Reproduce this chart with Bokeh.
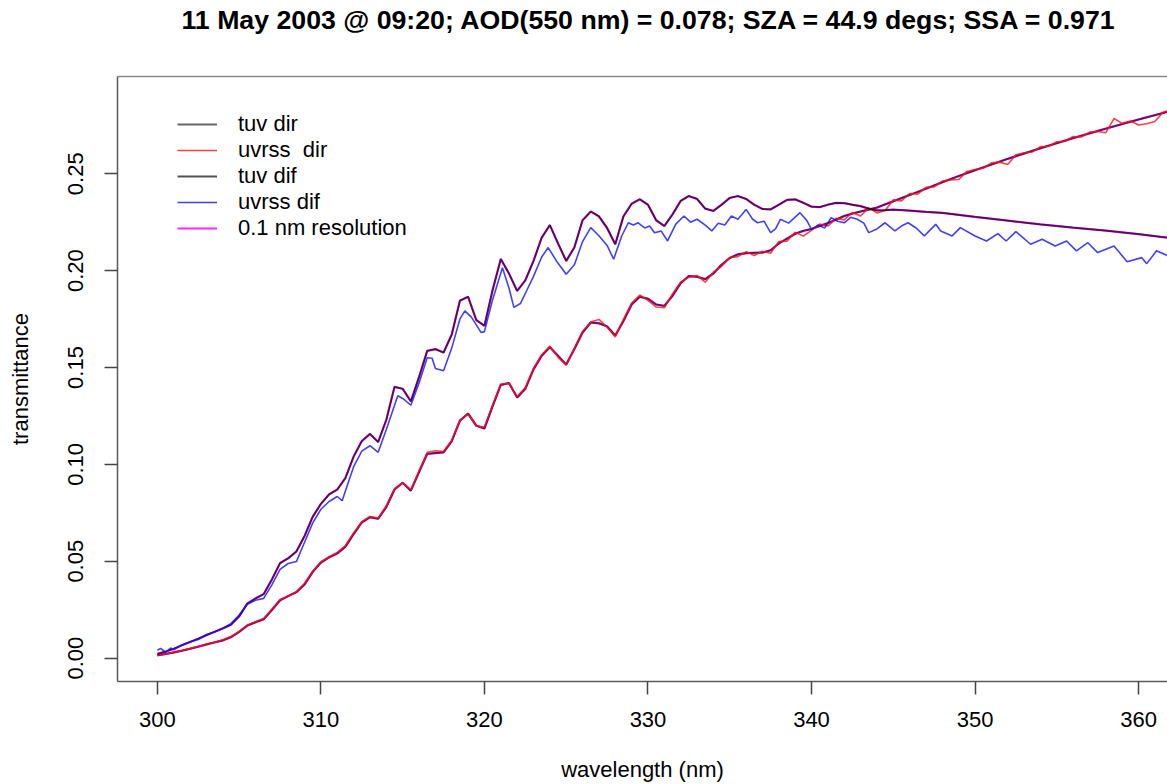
from bokeh.plotting import figure
from bokeh.models import Legend, LegendItem, FixedTicker, PrintfTickFormatter, Range1d, LinearAxis
from bokeh.embed import file_html
from bokeh.resources import INLINE

TITLE = "11 May 2003 @ 09:20; AOD(550 nm) = 0.078; SZA = 44.9 degs; SSA = 0.971"
X_LABEL = "wavelength (nm)"
Y_LABEL = "transmittance"
X_TICKS = [300, 310, 320, 330, 340, 350, 360]
Y_TICKS = [0.00, 0.05, 0.10, 0.15, 0.20, 0.25]
SERIES_NAMES = ["tuv dir", "uvrss  dir", "tuv dif", "uvrss dif", "0.1 nm resolution"]

# TUV model (wavelength grid shared by direct and diffuse)
tuv_wl = [300.0, 300.5, 301.0, 301.5, 302.0, 302.5, 303.0, 303.5, 304.0, 304.5,
          305.0, 305.5, 306.0, 306.5, 307.0, 307.5, 308.0, 308.5, 309.0, 309.5,
          310.0, 310.5, 311.0, 311.5, 312.0, 312.5, 313.0, 313.5, 314.0, 314.5,
          315.0, 315.5, 316.0, 316.5, 317.0, 317.5, 318.0, 318.5, 319.0, 319.5,
          320.0, 320.5, 321.0, 321.5, 322.0, 322.5, 323.0, 323.5, 324.0, 324.5,
          325.0, 325.5, 326.0, 326.5, 327.0, 327.5, 328.0, 328.5, 329.0, 329.5,
          330.0, 330.5, 331.0, 331.5, 332.0, 332.5, 333.0, 333.5, 334.0, 334.5,
          335.0, 335.5, 336.0, 336.5, 337.0, 337.5, 338.0, 338.5, 339.0, 339.5,
          340.0, 340.5, 341.0, 341.5, 342.0, 342.5, 343.0, 343.5, 344.0, 344.5,
          345.0, 346.0, 347.0, 348.0, 349.0, 350.0, 352.0, 354.0, 356.0, 358.0,
          360.0, 362.0]
tuv_dir = [0.0014, 0.0021, 0.0029, 0.0038, 0.0048, 0.0059, 0.0070, 0.0081, 0.0091, 0.0108,
           0.0135, 0.0168, 0.0185, 0.0200, 0.0248, 0.0298, 0.0320, 0.0340, 0.0380, 0.0445,
           0.0493, 0.0520, 0.0540, 0.0575, 0.0640, 0.0700, 0.0727, 0.0719, 0.0780, 0.0870,
           0.0905, 0.0864, 0.0960, 0.1054, 0.1058, 0.1062, 0.1120, 0.1225, 0.1262, 0.1200,
           0.1185, 0.1300, 0.1410, 0.1420, 0.1345, 0.1390, 0.1490, 0.1560, 0.1605, 0.1560,
           0.1515, 0.1595, 0.1680, 0.1732, 0.1728, 0.1712, 0.1665, 0.1740, 0.1825, 0.1865,
           0.1855, 0.1825, 0.1818, 0.1870, 0.1935, 0.1972, 0.1968, 0.1956, 0.1985, 0.2030,
           0.2065, 0.2084, 0.2090, 0.2092, 0.2093, 0.2105, 0.2140, 0.2165, 0.2190, 0.2205,
           0.2215, 0.2230, 0.2245, 0.2263, 0.2282, 0.2294, 0.2305, 0.2315, 0.2325, 0.2342,
           0.2358, 0.2390, 0.2423, 0.2456, 0.2488, 0.2518, 0.2577, 0.2632, 0.2684, 0.2733,
           0.2780, 0.2825]
tuv_dif = [0.0022, 0.0033, 0.0048, 0.0066, 0.0083, 0.0100, 0.0118, 0.0136, 0.0153, 0.0172,
           0.0215, 0.0282, 0.0308, 0.0330, 0.0405, 0.0490, 0.0515, 0.0550, 0.0630, 0.0730,
           0.0796, 0.0845, 0.0870, 0.0930, 0.1040, 0.1120, 0.1157, 0.1115, 0.1230, 0.1400,
           0.1390, 0.1325, 0.1450, 0.1586, 0.1595, 0.1577, 0.1670, 0.1845, 0.1865, 0.1745,
           0.1715, 0.1900, 0.2060, 0.1985, 0.1895, 0.1950, 0.2050, 0.2170, 0.2235, 0.2140,
           0.2050, 0.2120, 0.2260, 0.2305, 0.2280, 0.2220, 0.2136, 0.2280, 0.2345, 0.2368,
           0.2340, 0.2260, 0.2230, 0.2290, 0.2360, 0.2385, 0.2370, 0.2320, 0.2308, 0.2340,
           0.2375, 0.2385, 0.2370, 0.2340, 0.2318, 0.2316, 0.2340, 0.2365, 0.2368, 0.2350,
           0.2330, 0.2328, 0.2340, 0.2350, 0.2348, 0.2340, 0.2333, 0.2320, 0.2311, 0.2312,
           0.2315, 0.2310, 0.2303, 0.2298, 0.2288, 0.2277, 0.2258, 0.2239, 0.2222, 0.2206,
           0.2188, 0.2168]

# UVRSS measured direct (0.5 nm steps from 300 nm)
uvrss_dir_wl = [300.0 + 0.5 * i for i in range(125)]
uvrss_dir = [0.0016, 0.0020, 0.0031, 0.0039, 0.0050, 0.0060, 0.0073, 0.0082, 0.0094, 0.0111,
             0.0138, 0.0170, 0.0188, 0.0204, 0.0252, 0.0302, 0.0319, 0.0343, 0.0386, 0.0449,
             0.0497, 0.0523, 0.0545, 0.0581, 0.0646, 0.0704, 0.0731, 0.0723, 0.0786, 0.0874,
             0.0905, 0.0869, 0.0966, 0.1062, 0.1070, 0.1066, 0.1124, 0.1228, 0.1260, 0.1198,
             0.1192, 0.1306, 0.1415, 0.1417, 0.1350, 0.1396, 0.1495, 0.1566, 0.1610, 0.1552,
             0.1512, 0.1600, 0.1687, 0.1735, 0.1748, 0.1708, 0.1658, 0.1748, 0.1832, 0.1874,
             0.1846, 0.1812, 0.1808, 0.1880, 0.1942, 0.1966, 0.1975, 0.1940, 0.1992, 0.2022,
             0.2068, 0.2072, 0.2098, 0.2078, 0.2100, 0.2090, 0.2150, 0.2152, 0.2198, 0.2178,
             0.2208, 0.2240, 0.2230, 0.2270, 0.2262, 0.2300, 0.2282, 0.2324, 0.2298, 0.2310,
             0.2365, 0.2360, 0.2398, 0.2395, 0.2430, 0.2432, 0.2462, 0.2468, 0.2470, 0.2512,
             0.2522, 0.2528, 0.2556, 0.2560, 0.2548, 0.2598, 0.2608, 0.2612, 0.2640, 0.2642,
             0.2665, 0.2668, 0.2692, 0.2690, 0.2715, 0.2718, 0.2712, 0.2785, 0.2760, 0.2772,
             0.2752, 0.2758, 0.2770, 0.2818, 0.2830]

# UVRSS measured diffuse
uvrss_dif_wl = [300.0, 300.2, 300.5, 300.8, 301.0, 301.5, 302.0, 302.5, 303.0, 303.5,
                304.0, 304.5, 305.0, 305.5, 306.0, 306.5, 307.0, 307.5, 308.0, 308.5,
                309.0, 309.5, 310.0, 310.5, 311.0, 311.3, 311.6, 312.0, 312.5, 313.0,
                313.5, 314.0, 314.7, 315.0, 315.5, 316.0, 316.5, 316.8, 317.0, 317.5,
                318.0, 318.5, 318.8, 319.2, 319.8, 320.0, 320.5, 321.1, 321.5, 321.8,
                322.2, 322.6, 323.0, 323.5, 323.9, 324.4, 325.0, 325.5, 326.0, 326.5,
                327.0, 327.5, 327.9, 328.4, 328.8, 329.1, 329.4, 329.8, 330.1, 330.4,
                330.8, 331.2, 331.7, 332.2, 332.6, 333.0, 333.5, 333.9, 334.3, 334.7,
                335.1, 335.5, 336.0, 336.4, 336.7, 337.1, 337.5, 337.8, 338.1, 338.6,
                339.3, 339.7, 340.0, 340.4, 340.8, 341.2, 341.6, 342.0, 342.4, 342.8,
                343.2, 343.5, 344.0, 344.5, 345.1, 345.5, 345.9, 346.4, 346.9, 347.2,
                347.6, 347.9, 348.6, 349.1, 350.0, 350.7, 351.4, 351.9, 352.5, 353.4,
                354.1, 354.9, 355.6, 356.2, 356.9, 357.5, 358.5, 359.3, 360.2, 360.5,
                361.1, 361.8, 362.0]
uvrss_dif = [0.0040, 0.0050, 0.0030, 0.0052, 0.0042, 0.0068, 0.0084, 0.0096, 0.0122, 0.0134,
             0.0154, 0.0178, 0.0222, 0.0278, 0.0298, 0.0308, 0.0378, 0.0458, 0.0488, 0.0498,
             0.0598, 0.0698, 0.0768, 0.0808, 0.0834, 0.0812, 0.0888, 0.0988, 0.1068, 0.1096,
             0.1062, 0.1180, 0.1354, 0.1340, 0.1305, 0.1420, 0.1550, 0.1548, 0.1495, 0.1483,
             0.1600, 0.1750, 0.1792, 0.1760, 0.1680, 0.1685, 0.1850, 0.2015, 0.1910, 0.1810,
             0.1830, 0.1900, 0.1970, 0.2070, 0.2119, 0.2050, 0.1981, 0.2030, 0.2150, 0.2222,
             0.2180, 0.2130, 0.2059, 0.2180, 0.2247, 0.2235, 0.2247, 0.2220, 0.2230, 0.2195,
             0.2205, 0.2153, 0.2240, 0.2282, 0.2250, 0.2265, 0.2235, 0.2205, 0.2245, 0.2235,
             0.2282, 0.2265, 0.2316, 0.2265, 0.2247, 0.2255, 0.2196, 0.2215, 0.2265, 0.2245,
             0.2299, 0.2260, 0.2213, 0.2235, 0.2220, 0.2273, 0.2255, 0.2247, 0.2275, 0.2265,
             0.2245, 0.2196, 0.2215, 0.2247, 0.2205, 0.2230, 0.2247, 0.2220, 0.2179, 0.2205,
             0.2239, 0.2205, 0.2179, 0.2222, 0.2179, 0.2153, 0.2191, 0.2153, 0.2201, 0.2136,
             0.2162, 0.2127, 0.2153, 0.2102, 0.2144, 0.2093, 0.2127, 0.2046, 0.2067, 0.2036,
             0.2102, 0.2076, 0.2080]

# 0.1 nm resolution TUV (indistinguishable from the TUV curves at this scale)
hires_dir = tuv_dir
hires_dif = tuv_dif

FONT = "Liberation Sans"

p = figure(width=1167, height=784,
           x_range=Range1d(297.56, 361.77), y_range=Range1d(-0.0121, 0.3002),
           output_backend="svg", toolbar_location=None,
           min_border_left=117, min_border_right=0, min_border_top=76, min_border_bottom=103)

bottom_axis = p.below[0]
left_axis = p.left[0]

# title: an empty second line reserves space below it so the text sits near the top edge
p.title.text = TITLE + "\n"
p.title.align = "left"
p.title.offset = 64
p.title.vertical_align = "top"
p.title.standoff = 0
p.title.text_line_height = 1.32
p.title.text_font = FONT
p.title.text_font_size = "26.7px"
p.title.text_font_style = "bold"
p.title.text_color = "black"

p.xgrid.visible = False
p.ygrid.visible = False
p.outline_line_color = None

# top edge of the box (no ticks / labels)
top_axis = LinearAxis(axis_line_color="#8a8a8a", axis_line_width=1.5,
                      ticker=FixedTicker(ticks=[]),
                      major_tick_line_color=None, minor_tick_line_color=None,
                      major_label_standoff=0)
p.add_layout(top_axis, "above")

for ax in (bottom_axis, left_axis):
    ax.axis_line_color = "#5a5a5a"
    ax.axis_line_width = 1.5
    ax.major_tick_line_color = "#444444"
    ax.major_tick_line_width = 1.5
    ax.major_tick_out = 13
    ax.major_tick_in = 0
    ax.minor_tick_line_color = None
    ax.major_label_text_font = FONT
    ax.major_label_text_font_size = "22px"
    ax.major_label_text_color = "black"
    ax.axis_label_text_font = FONT
    ax.axis_label_text_font_size = "22px"
    ax.axis_label_text_font_style = "normal"
    ax.axis_label_text_color = "black"

bottom_axis.ticker = FixedTicker(ticks=X_TICKS)
bottom_axis.axis_label = X_LABEL
bottom_axis.major_label_standoff = 17
bottom_axis.axis_label_standoff = 27

left_axis.ticker = FixedTicker(ticks=Y_TICKS)
left_axis.formatter = PrintfTickFormatter(format="%.2f")
left_axis.major_label_orientation = "vertical"
left_axis.axis_label = Y_LABEL
left_axis.major_label_standoff = 21
left_axis.axis_label_standoff = 33

r_hdir = p.line(tuv_wl, hires_dir, line_color="#ff00ff", line_width=2.2, line_alpha=0.85)
r_hdif = p.line(tuv_wl, hires_dif, line_color="#ff00ff", line_width=2.2, line_alpha=0.85)
r_tdir = p.line(tuv_wl, tuv_dir, line_color="black", line_width=2.0, line_alpha=0.6)
r_udir = p.line(uvrss_dir_wl, uvrss_dir, line_color="#ff1010", line_width=1.6, line_alpha=0.8)
r_tdif = p.line(tuv_wl, tuv_dif, line_color="black", line_width=1.8, line_alpha=0.68)
r_udif = p.line(uvrss_dif_wl, uvrss_dif, line_color="#1010ff", line_width=1.6, line_alpha=0.8)

legend = Legend(items=[LegendItem(label=SERIES_NAMES[0], renderers=[r_tdir]),
                       LegendItem(label=SERIES_NAMES[1], renderers=[r_udir]),
                       LegendItem(label=SERIES_NAMES[2], renderers=[r_tdif]),
                       LegendItem(label=SERIES_NAMES[3], renderers=[r_udif]),
                       LegendItem(label=SERIES_NAMES[4], renderers=[r_hdir])],
                location=(60, 440), border_line_color=None, background_fill_alpha=0,
                padding=0, margin=0, spacing=0, label_height=26, glyph_height=26,
                glyph_width=40, label_standoff=21, label_text_font=FONT,
                label_text_font_size="22px", label_text_color="black")
p.add_layout(legend)

open("out.html", "w").write(file_html(p, INLINE))
